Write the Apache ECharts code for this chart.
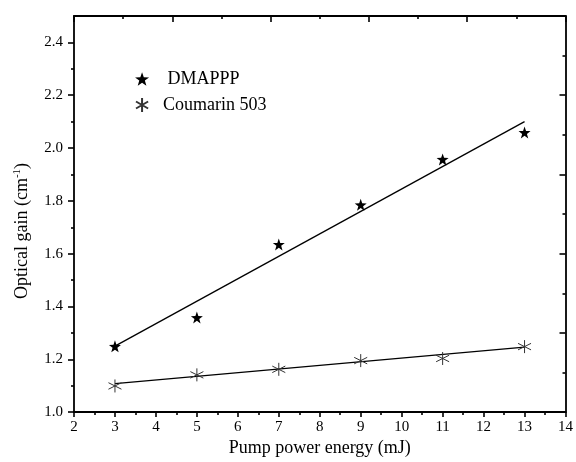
<!DOCTYPE html>
<html>
<head>
<meta charset="utf-8">
<script src="https://cdn.jsdelivr.net/npm/echarts@6/dist/echarts.min.js"></script>
<style>html,body{margin:0;padding:0;background:#fff;}#c{width:576px;height:462px;}</style>
</head>
<body>
<div id="c"></div>
<script>
// ---- data ----
var energy = [3, 5, 7, 9, 11, 13];
var dmapppGain = [1.249, 1.358, 1.635, 1.785, 1.957, 2.059];
var coumarinGain = [1.099, 1.141, 1.162, 1.195, 1.203, 1.248];
// linear fit endpoints as drawn in the reference
var fitX = [3, 13];
var dmapppFit = [1.25, 2.10];
var coumarinFit = [1.108, 1.246];
// tick values
var yMajorTicks = [1.0, 1.2, 1.4, 1.6, 1.8, 2.0, 2.2, 2.4];
var yMinorTicks = [1.1, 1.3, 1.5, 1.7, 1.9, 2.1, 2.3];
var seriesNames = ['DMAPPP', 'Coumarin 503'];

var FONT = 'Liberation Serif';
var starPath = 'path://M0,-10L2.35,-3.24L9.51,-3.09L3.8,1.24L5.88,8.09L0,4L-5.88,8.09L-3.8,1.24L-9.51,-3.09L-2.35,-3.24Z';
var astPath = 'path://M0,-10L0,10M-8.66,-5L8.66,5M-8.66,5L8.66,-5';

function pairs(xs, ys) { return xs.map(function (x, i) { return [x, ys[i]]; }); }

var axisLine = { show: true, lineStyle: { color: '#000', width: 1.8 } };
var tickStyle = { color: '#000', width: 1.6 };

var chart = echarts.init(document.getElementById('c'), null, { renderer: 'canvas' });
chart.setOption({
  backgroundColor: '#fff',
  animation: false,
  grid: { left: 74, right: 8, top: 16, bottom: 48, containLabel: false },
  legend: {
    orient: 'vertical', left: 130, top: 65, itemWidth: 14, itemHeight: 14, itemGap: 8,
    data: seriesNames,
    formatter: function (n) { return n === 'DMAPPP' ? '   ' + n : '  ' + n; },
    textStyle: { fontFamily: FONT, fontSize: 18, color: '#000' }
  },
  graphic: [{
    type: 'text', x: 22, y: 231, rotation: Math.PI / 2,
    style: {
      text: '{a|Optical gain (cm}{s|-1}{a|)}',
      align: 'center', verticalAlign: 'middle',
      rich: {
        a: { fontFamily: FONT, fontSize: 18, fill: '#000' },
        s: { fontFamily: FONT, fontSize: 11, fill: '#000', padding: [0, 0, 9, 0] }
      }
    }
  }],
  xAxis: [{
    type: 'value', position: 'bottom', min: 2, max: 14, interval: 1,
    axisLine: axisLine,
    axisTick: { show: true, inside: false, length: 5, lineStyle: tickStyle },
    minorTick: { show: true, splitNumber: 2, length: 3, lineStyle: tickStyle },
    splitLine: { show: false }, minorSplitLine: { show: false },
    axisLabel: { fontFamily: FONT, fontSize: 15, color: '#000', margin: 7 },
    name: 'Pump power energy (mJ)', nameLocation: 'middle', nameGap: 17,
    nameTextStyle: { fontFamily: FONT, fontSize: 18, color: '#000' }
  }, {
    type: 'value', position: 'top', min: 0, max: 10, interval: 2,
    axisLine: axisLine,
    axisTick: { show: true, inside: true, length: 6, lineStyle: tickStyle },
    minorTick: { show: true, splitNumber: 2, length: 3, lineStyle: tickStyle },
    splitLine: { show: false }, axisLabel: { show: false }
  }],
  yAxis: [{
    type: 'value', position: 'left', min: 1.0, max: 2.5, interval: 0.2,
    axisLine: axisLine,
    axisTick: { show: true, inside: false, length: 6, customValues: yMajorTicks, lineStyle: tickStyle },
    splitLine: { show: false },
    axisLabel: { fontFamily: FONT, fontSize: 15, color: '#000', margin: 11, customValues: yMajorTicks,
      formatter: function (v) { return v.toFixed(1); } }
  }, {
    type: 'value', position: 'right', min: 0, max: 10, interval: 2,
    axisLine: axisLine,
    axisTick: { show: true, inside: true, length: 6, lineStyle: tickStyle },
    minorTick: { show: true, splitNumber: 2, length: 3, lineStyle: tickStyle },
    splitLine: { show: false }, axisLabel: { show: false }
  }, {
    type: 'value', position: 'left', min: 1.0, max: 2.5, interval: 0.1,
    axisLine: { show: false },
    axisTick: { show: true, inside: false, length: 3, customValues: yMinorTicks, lineStyle: tickStyle },
    splitLine: { show: false }, axisLabel: { show: false }
  }],
  series: [{
    name: 'DMAPPP fit', type: 'line', xAxisIndex: 0, yAxisIndex: 0,
    data: pairs(fitX, dmapppFit), symbol: 'none', silent: true,
    lineStyle: { color: '#000', width: 1.3 }, z: 2
  }, {
    name: 'Coumarin fit', type: 'line', xAxisIndex: 0, yAxisIndex: 0,
    data: pairs(fitX, coumarinFit), symbol: 'none', silent: true,
    lineStyle: { color: '#000', width: 1.3 }, z: 2
  }, {
    name: seriesNames[0], type: 'scatter', xAxisIndex: 0, yAxisIndex: 0,
    data: pairs(energy, dmapppGain), symbol: starPath, symbolSize: 12,
    itemStyle: { color: '#000', opacity: 1 }, z: 3
  }, {
    name: seriesNames[1], type: 'scatter', xAxisIndex: 0, yAxisIndex: 0,
    data: pairs(energy, coumarinGain), symbol: astPath, symbolSize: 13,
    itemStyle: { color: 'rgba(0,0,0,0)', borderColor: '#333', borderWidth: 1, opacity: 1 }, z: 3
  }]
});
</script>
</body>
</html>
